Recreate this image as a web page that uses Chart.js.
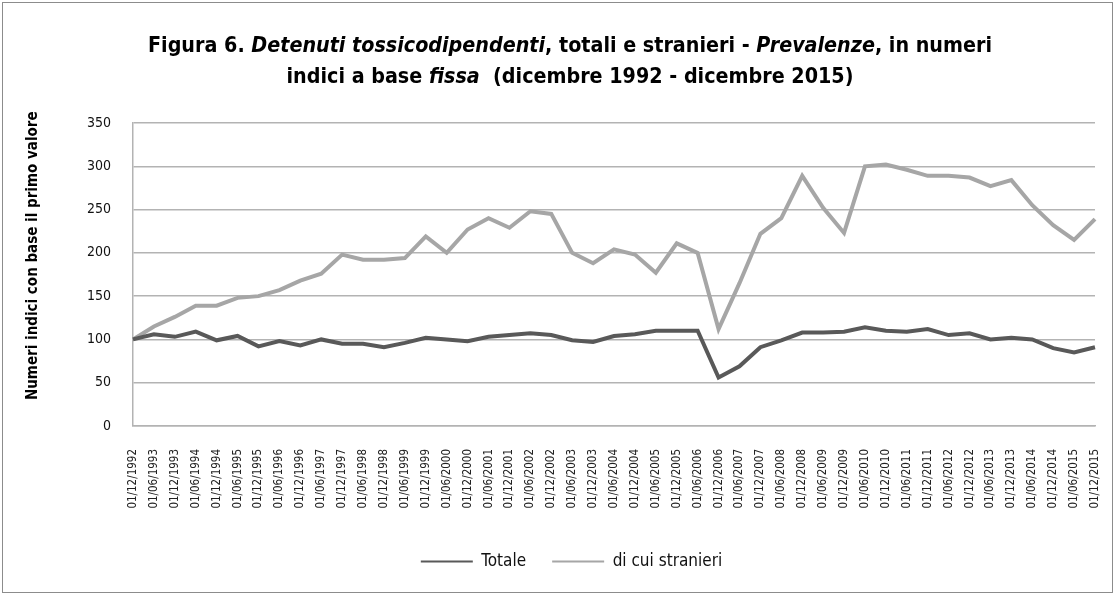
<!DOCTYPE html>
<html>
<head>
<meta charset="utf-8">
<script src="https://cdn.jsdelivr.net/npm/chart.js@4/dist/chart.umd.min.js"></script>
<style>
    body { margin: 0; background: #fff; }
    #wrap { position: relative; width: 1116px; height: 595px; }
    #frame { position: absolute; left: 2px; top: 2px; width: 1109px; height: 589px; border: 1.5px solid #8c8c8c; pointer-events: none; }
    #title {
        position: absolute; left: 0; top: 29px; width: 1140px; text-align: center;
        font-family: 'Liberation Sans Narrow', 'DejaVu Sans Condensed', sans-serif;
        font-weight: bold; font-size: 21.3px; line-height: 31px; color: #000;
    }
    canvas { position: absolute; left: 0; top: 0; }
</style>
</head>
<body>
<div id="wrap">
    <canvas id="chart" width="1116" height="595"></canvas>
    <div id="title">Figura 6. <i>Detenuti tossicodipendenti</i>, totali e stranieri - <i>Prevalenze</i>, in numeri<br>indici a base <i>fissa</i>&nbsp; (dicembre 1992 - dicembre 2015)</div>
    <div id="frame"></div>
</div>
<script>
const dates = [
    '01/12/1992', '01/06/1993', '01/12/1993', '01/06/1994', '01/12/1994', '01/06/1995', '01/12/1995',
    '01/06/1996', '01/12/1996', '01/06/1997', '01/12/1997', '01/06/1998', '01/12/1998', '01/06/1999',
    '01/12/1999', '01/06/2000', '01/12/2000', '01/06/2001', '01/12/2001', '01/06/2002', '01/12/2002',
    '01/06/2003', '01/12/2003', '01/06/2004', '01/12/2004', '01/06/2005', '01/12/2005', '01/06/2006',
    '01/12/2006', '01/06/2007', '01/12/2007', '01/06/2008', '01/12/2008', '01/06/2009', '01/12/2009',
    '01/06/2010', '01/12/2010', '01/06/2011', '01/12/2011', '01/06/2012', '01/12/2012', '01/06/2013',
    '01/12/2013', '01/06/2014', '01/12/2014', '01/06/2015', '01/12/2015'
];

const totale = [100, 106, 103, 109, 99, 104, 92, 98, 93, 100, 95, 95, 91, 96, 102, 100, 98, 103, 105, 107,
    105, 99, 97, 104, 106, 110, 110, 110, 56, 69, 91, 99, 108, 108, 109, 114, 110, 109, 112, 105,
    107, 100, 102, 100, 90, 85, 91];

const stranieri = [100, 115, 126, 139, 139, 148, 150, 157, 168, 176, 198, 192, 192, 194, 219, 200, 227, 240, 229, 248,
    245, 200, 188, 204, 198, 177, 211, 200, 112, 165, 222, 240, 289, 252, 223, 300, 302, 296, 289, 289,
    287, 277, 284, 255, 232, 215, 239];

const yTicks = { min: 0, max: 350, step: 50 };

const FONT = "'Liberation Sans Narrow', 'DejaVu Sans Condensed', sans-serif";
const GRID = '#b3b3b3';

// the legend sits a bit right of centre in the original
const legendShift = {
    id: 'legendShift',
    afterLayout(chart) {
        chart.legend.left += 24;
        chart.legend.right += 24;
    }
};

const ctx = document.getElementById('chart').getContext('2d');
new Chart(ctx, {
    type: 'line',
    data: {
        labels: dates,
        datasets: [
            { label: 'Totale', data: totale, borderColor: '#595959', backgroundColor: '#595959', borderWidth: 4, pointRadius: 0, tension: 0 },
            { label: 'di cui stranieri', data: stranieri, borderColor: '#a6a6a6', backgroundColor: '#a6a6a6', borderWidth: 4, pointRadius: 0, tension: 0 }
        ]
    },
    options: {
        responsive: false,
        animation: false,
        layout: { padding: { left: 0, right: 21, top: 123, bottom: 15 } },
        scales: {
            x: {
                offset: false,
                grid: { display: false, drawTicks: false },
                border: { color: GRID, width: 1.5 },
                ticks: {
                    autoSkip: false, minRotation: 90, maxRotation: 90, padding: 23,
                    color: '#222', font: { family: FONT, size: 11.5 }
                },
                afterFit: s => { s.height = 101; s.paddingLeft = 0; s.paddingRight = 0; }
            },
            y: {
                min: yTicks.min, max: yTicks.max,
                grid: { color: GRID, lineWidth: 1.5, drawTicks: false },
                border: { color: GRID, width: 1.5 },
                ticks: { stepSize: yTicks.step, padding: 22, color: '#111', font: { family: FONT, size: 14 } },
                title: {
                    display: true, text: '\u00a0\u00a0\u00a0\u00a0\u00a0\u00a0\u00a0\u00a0Numeri indici con base il primo valore', color: '#000',
                    font: { family: FONT, size: 15, weight: 'bold' }, padding: { top: 24, bottom: 0 }
                },
                afterFit: s => { s.width = 133; }
            }
        },
        plugins: {
            title: { display: false },
            tooltip: { enabled: false },
            legend: {
                position: 'bottom',
                labels: {
                    usePointStyle: true, pointStyle: 'line', pointStyleWidth: 52, boxHeight: 15,
                    padding: 26, color: '#111', font: { family: FONT, size: 17 },
                    generateLabels: chart => Chart.defaults.plugins.legend.labels.generateLabels(chart)
                        .map(l => Object.assign(l, { lineWidth: 2 }))
                }
            }
        }
    },
    plugins: [legendShift]
});
</script>
</body>
</html>
